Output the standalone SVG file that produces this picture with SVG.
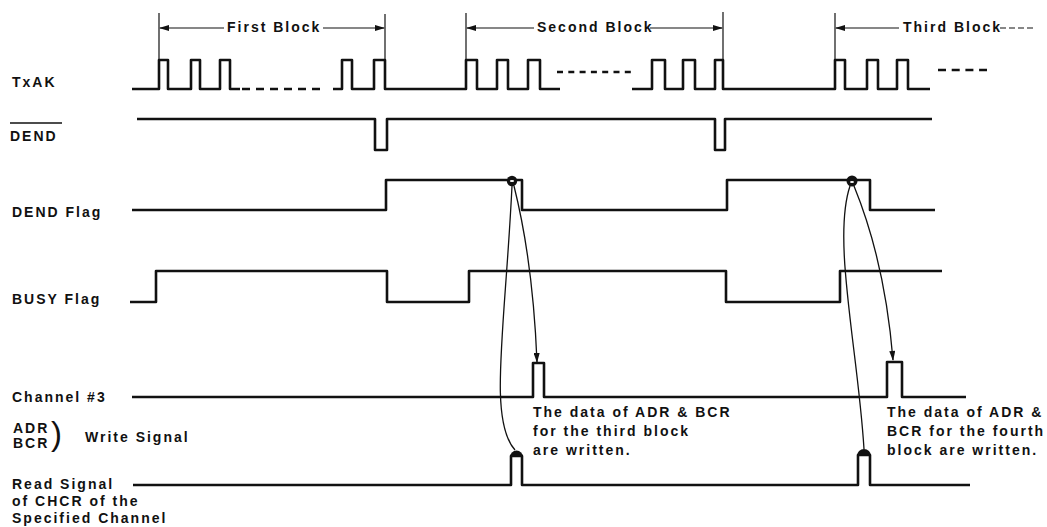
<svg xmlns="http://www.w3.org/2000/svg" width="1047" height="527" viewBox="0 0 1047 527">
  <defs>
    <style>
      .lbl { font-family: "Liberation Sans", Arial, sans-serif; font-size: 14px; font-weight: bold; letter-spacing: 2px; fill: #111; }
      .wave { fill: none; stroke: #111; stroke-width: 2.6; stroke-linejoin: round; stroke-linecap: butt; }
      .thin { fill: none; stroke: #111; stroke-width: 1.2; }
      .dash { fill: none; stroke: #111; stroke-width: 2.4; }
      .curve { fill: none; stroke: #111; stroke-width: 1.3; }
    </style>
    <marker id="arr" viewBox="0 0 10 6" refX="9" refY="3" markerWidth="10" markerHeight="6" markerUnits="userSpaceOnUse" orient="auto-start-reverse">
      <path d="M0,0 L10,3 L0,6 Z" fill="#111"/>
    </marker>
    <marker id="arrd" viewBox="0 0 10 6" refX="9" refY="3" markerWidth="11" markerHeight="6" markerUnits="userSpaceOnUse" orient="auto">
      <path d="M0,0 L10,3 L0,6 Z" fill="#111"/>
    </marker>
  </defs>
  <rect width="1047" height="527" fill="#fff"/>

  <g id="blocks">
    <line class="thin" x1="159" y1="13" x2="159" y2="62"/>
    <line class="thin" x1="385" y1="14" x2="385" y2="62"/>
    <line class="thin" x1="466" y1="13" x2="466" y2="62"/>
    <line class="thin" x1="723" y1="12" x2="723" y2="62"/>
    <line class="thin" x1="835" y1="13" x2="835" y2="62"/>
    <line class="thin" x1="160" y1="28" x2="224" y2="28" marker-start="url(#arr)"/>
    <line class="thin" x1="323" y1="28" x2="384" y2="28" marker-end="url(#arr)"/>
    <line class="thin" x1="467" y1="28" x2="534" y2="28" marker-start="url(#arr)"/>
    <line class="thin" x1="650" y1="28" x2="722" y2="28" marker-end="url(#arr)"/>
    <line class="thin" x1="836" y1="28" x2="899" y2="28" marker-start="url(#arr)"/>
    <line class="thin" x1="1000" y1="28" x2="1034" y2="28" stroke-dasharray="6 3"/>
    <text class="lbl" x="227" y="32">First Block</text>
    <text class="lbl" x="537" y="32">Second Block</text>
    <text class="lbl" x="903" y="32">Third Block</text>
  </g>

  <g id="txak">
    <text class="lbl" x="12" y="87" letter-spacing="1">TxAK</text>
    <path class="wave" d="M132,89 H159 V60 H168 V89 H191 V60 H200 V89 H220 V60 H230 V89 H240"/>
    <line class="dash" x1="242" y1="89" x2="322" y2="89" stroke-dasharray="8 6"/>
    <path class="wave" d="M333,89 H342 V60 H352 V89 H374 V60 H385 V89 H466 V60 H477 V89 H497 V60 H508 V89 H528 V60 H540 V89 H560"/>
    <line class="dash" x1="557" y1="72" x2="631" y2="72" stroke-dasharray="6 5.3"/>
    <path class="wave" d="M632,89 H652 V60 H665 V89 H683 V60 H695 V89 H715 V60 H723 V89 H835 V60 H845 V89 H867 V60 H878 V89 H897 V60 H908 V89 H930"/>
    <line class="dash" x1="938" y1="70" x2="987" y2="70" stroke-dasharray="8 5.7"/>
  </g>

  <g id="dend">
    <text class="lbl" x="10" y="141">DEND</text>
    <line x1="10" y1="123" x2="62" y2="123" stroke="#111" stroke-width="1.6"/>
    <path class="wave" d="M137,119 H375 V150 H387 V119 H715 V150 H725 V119 H932"/>
  </g>

  <g id="dend-flag">
    <text class="lbl" x="12" y="217">DEND Flag</text>
    <path class="wave" d="M132,210 H386 V180 H522 V210 H727 V180 H870 V210 H935"/>
    <circle cx="512" cy="181" r="5.2" fill="#111"/>
    <ellipse cx="512" cy="181" rx="2.2" ry="1.1" fill="#fff"/>
    <circle cx="852" cy="181" r="5.5" fill="#111"/>
    <ellipse cx="852" cy="182" rx="2" ry="1.1" fill="#fff"/>
  </g>

  <g id="busy-flag">
    <text class="lbl" x="12" y="304">BUSY Flag</text>
    <path class="wave" d="M130,302 H156 V271 H387 V302 H469 V271 H726 V302 H840 V271 H942"/>
  </g>

  <g id="channel3">
    <text class="lbl" x="12" y="402">Channel #3</text>
    <path class="wave" d="M132,397 H533 V363 H544 V397 H887 V362 H902 V397 H966"/>
  </g>

  <g id="write-signal">
    <text class="lbl" x="13" y="433" letter-spacing="0.5">ADR</text>
    <text class="lbl" x="13" y="448" letter-spacing="0.5">BCR</text>
    <text x="51" y="445" font-family="Liberation Sans, Arial, sans-serif" font-size="33" fill="#111">)</text>
    <text class="lbl" x="85" y="442">Write Signal</text>
  </g>

  <g id="read-signal">
    <text class="lbl" x="12" y="489">Read Signal</text>
    <text class="lbl" x="12" y="506">of CHCR of the</text>
    <text class="lbl" x="12" y="523">Specified Channel</text>
    <path class="wave" d="M133,485 H511 V456 H522 V485 H858 V455 H870 V485 H970"/>
    <path d="M510,457 A6,6 0 0 1 523,457 Z" fill="#111"/>
    <path d="M857,456 A6.5,6.5 0 0 1 871,456 Z" fill="#111"/>
  </g>

  <g id="notes">
    <text class="lbl" x="533" y="417">The data of ADR &amp; BCR</text>
    <text class="lbl" x="533" y="436">for the third block</text>
    <text class="lbl" x="533" y="455">are written.</text>
    <text class="lbl" x="887" y="417">The data of ADR &amp;</text>
    <text class="lbl" x="887" y="436">BCR for the fourth</text>
    <text class="lbl" x="887" y="455">block are written.</text>
  </g>

  <g id="connectors">
    <path class="curve" d="M512,186 C505,330 488,420 515,450"/>
    <path class="curve" d="M514,186 Q533,262 537,362" marker-end="url(#arrd)"/>
    <path class="curve" d="M850,186 C832,240 858,350 864,449"/>
    <path class="curve" d="M854,186 Q885,262 893,360" marker-end="url(#arrd)"/>
  </g>
</svg>
